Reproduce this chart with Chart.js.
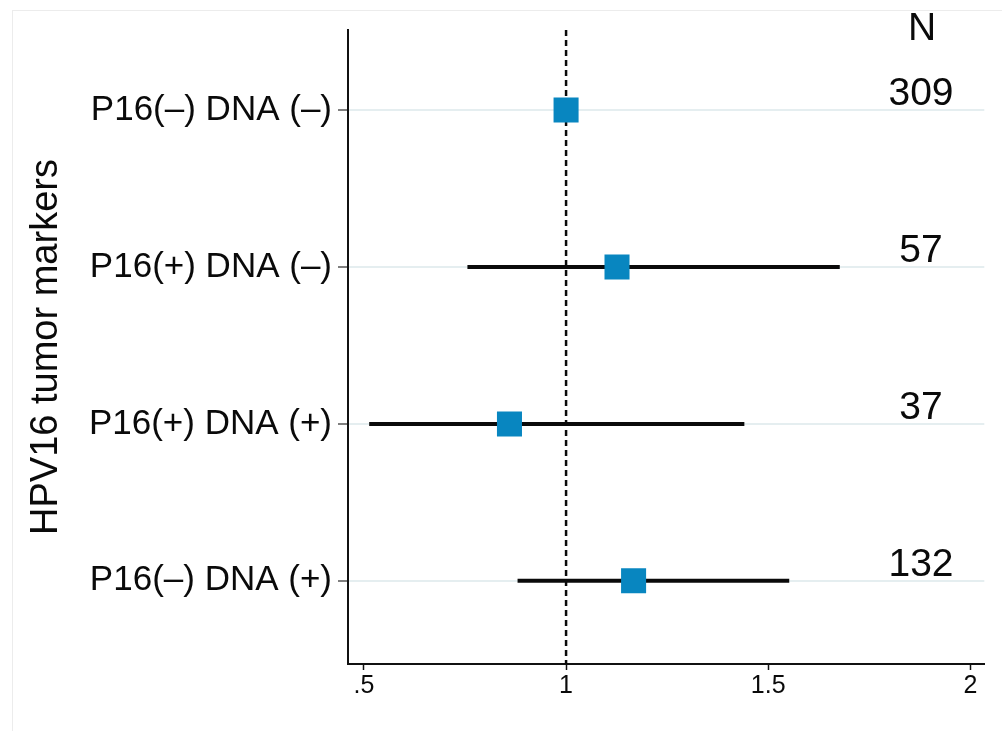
<!DOCTYPE html>
<html>
<head>
<meta charset="utf-8">
<script src="https://cdn.jsdelivr.net/npm/chart.js@4.4.1/dist/chart.umd.min.js"></script>
<style>
html, body { margin: 0; padding: 0; background: #fff; }
#frame { position: absolute; left: 12px; top: 10px; width: 1000px; height: 730px; border-top: 1px solid #ececec; border-left: 1px solid #ececec; }
#wrap { position: absolute; left: 0; top: 0; }
</style>
</head>
<body>
<div id="frame"></div>
<div id="wrap"><canvas id="forest" width="1002" height="731"></canvas></div>
<script>
// rows, top to bottom
const markers = ['P16(–) DNA (–)', 'P16(+) DNA (–)', 'P16(+) DNA (+)', 'P16(–) DNA (+)'];
const rowPos = [1, 2, 3, 4];
const estimate = [1.0, 1.126, 0.86, 1.167];
const ciLower = [null, 0.756, 0.513, 0.880];
const ciUpper = [null, 1.677, 1.441, 1.552];
const counts = [309, 57, 37, 132];

const xTicks = [0.5, 1, 1.5, 2];
const xTickLabels = ['.5', '1', '1.5', '2'];
const xRange = [0.4606, 2.0345];
const yRange = [0.49, 4.53];
const refValue = 1;

const FONT = '"Liberation Sans", Arial, Helvetica, sans-serif';

// N column on the right
const nColumn = {
    id: 'nColumn',
    afterDatasetsDraw(chart) {
        const ctx = chart.ctx;
        const yScale = chart.scales.y;
        ctx.save();
        ctx.fillStyle = '#0a0a0a';
        ctx.textAlign = 'center';
        ctx.textBaseline = 'alphabetic';
        ctx.font = '39px ' + FONT;
        ctx.fillText('N', 922, 40);
        counts.forEach((n, i) => {
            ctx.fillText(String(n), 921, yScale.getPixelForValue(rowPos[i]) - 5);
        });
        ctx.restore();
    }
};

const ciSets = [];
rowPos.forEach((y, i) => {
    if (ciLower[i] == null) return;
    ciSets.push({
        data: [{ x: ciLower[i], y: y }, { x: ciUpper[i], y: y }],
        showLine: true,
        borderColor: '#0a0a0a',
        borderWidth: 4,
        pointRadius: 0,
        order: 1
    });
});

new Chart(document.getElementById('forest'), {
    type: 'scatter',
    data: {
        datasets: [
            {
                data: rowPos.map((y, i) => ({ x: estimate[i], y: y })),
                pointStyle: 'rect',
                pointRadius: 17.7,
                pointHoverRadius: 17.7,
                backgroundColor: '#0886c0',
                borderWidth: 0,
                order: 0
            },
            ...ciSets,
            {
                data: [{ x: refValue, y: yRange[0] }, { x: refValue, y: yRange[1] }],
                showLine: true,
                borderColor: '#0a0a0a',
                borderWidth: 2.5,
                borderDash: [6, 4],
                pointRadius: 0,
                order: 2
            }
        ]
    },
    options: {
        responsive: false,
        animation: false,
        layout: { padding: { top: 30, right: 15, left: 0, bottom: 0 } },
        plugins: {
            legend: { display: false },
            tooltip: { enabled: false }
        },
        scales: {
            x: {
                type: 'linear',
                min: xRange[0],
                max: xRange[1],
                afterBuildTicks: (scale) => { scale.ticks = xTicks.map(v => ({ value: v })); },
                afterFit: (scale) => { scale.height = 67; },
                grid: { drawOnChartArea: false, tickLength: 6, tickColor: '#111', tickWidth: 1.5 },
                border: { color: '#111', width: 2 },
                ticks: {
                    padding: 4,
                    color: '#0a0a0a',
                    font: { family: FONT, size: 25, lineHeight: 1 },
                    callback: (v) => xTickLabels[xTicks.indexOf(v)]
                }
            },
            y: {
                type: 'linear',
                reverse: true,
                min: yRange[0],
                max: yRange[1],
                afterBuildTicks: (scale) => { scale.ticks = rowPos.map(v => ({ value: v })); },
                afterFit: (scale) => { scale.width = 348; },
                grid: { color: '#e5eef0', lineWidth: 2, tickLength: 10, tickColor: '#555', tickWidth: 1.5 },
                border: { color: '#111', width: 2 },
                ticks: {
                    padding: 6,
                    color: '#0a0a0a',
                    font: { family: FONT, size: 35 },
                    callback: (v) => markers[rowPos.indexOf(v)]
                },
                title: {
                    display: true,
                    text: 'HPV16 tumor markers',
                    color: '#0a0a0a',
                    font: { family: FONT, size: 38 },
                    padding: { top: 24, bottom: 0 }
                }
            }
        }
    },
    plugins: [nColumn]
});
</script>
</body>
</html>
